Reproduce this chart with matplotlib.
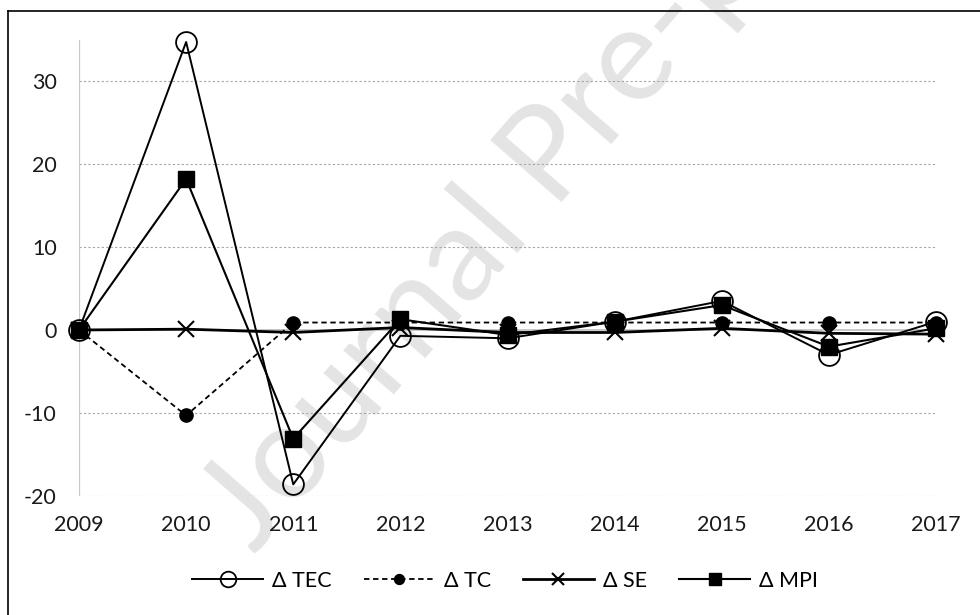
import matplotlib
matplotlib.use("Agg")
import matplotlib.pyplot as plt
from matplotlib.lines import Line2D

plt.rcParams['font.family'] = ['Lato', 'DejaVu Sans']
plt.rcParams['axes.unicode_minus'] = False

years = [2009, 2010, 2011, 2012, 2013, 2014, 2015, 2016, 2017]
tec = [0.0, 34.7, -18.6, -0.7, -1.0, 1.0, 3.5, -3.0, 1.0]
tc = [0.0, -10.3, 0.9, 0.9, 0.9, 0.9, 0.9, 0.9, 0.9]
se = [0.0, 0.1, -0.3, 0.3, -0.3, -0.3, 0.2, -0.4, -0.5]
mpi = [0.0, 18.2, -13.1, 1.3, -0.6, 1.0, 3.0, -2.0, 0.2]
y_ticks = [-20, -10, 0, 10, 20, 30]
labels = ["\u0394 TEC", "\u0394 TC", "\u0394 SE", "\u0394 MPI"]

W, H = 980, 615
fig = plt.figure(figsize=(W / 100, H / 100), dpi=100)

# outer chart frame (left and top edges)
fig.add_artist(Line2D([7.5 / W, 7.5 / W], [0, 1 - 11 / H], color="black", lw=1.2))
fig.add_artist(Line2D([7.5 / W, 1], [1 - 11 / H, 1 - 11 / H], color="black", lw=1.2))

left, right, top, bottom = 79, 936, 39.5, 496
ax = fig.add_axes([left / W, 1 - bottom / H, (right - left) / W, (bottom - top) / H])

ax.set_xlim(2009, 2017)
ax.set_ylim(-20, 35)
ax.set_xticks(years)
ax.set_yticks(y_ticks)
ax.tick_params(length=0, labelsize=15.5, colors="#1a1a1a")
ax.tick_params(axis="x", pad=14)
ax.tick_params(axis="y", pad=16)
for s in ax.spines.values():
    s.set_visible(False)

# gridlines and axis lines
for v in y_ticks:
    if v == 0:
        ax.axhline(0, color="#c8c8c8", lw=1.4, zorder=1)
    else:
        ax.axhline(v, color="#a6a6a6", lw=0.8, ls=(0, (2, 2)), zorder=1)
ax.axvline(2009, color="#c8c8c8", lw=1.6, zorder=1)

# watermark
ax.text(0.205, -0.13, "Journal Pre-proof", transform=ax.transAxes,
        rotation=49, fontsize=95, color="#e4e4e4", ha="left", va="baseline",
        rotation_mode="anchor", zorder=0.5, clip_on=False)

l1, = ax.plot(years, tec, color="black", lw=1.4, marker="o", ms=15,
              mfc="none", mec="black", mew=1.3, zorder=3, clip_on=False)
l2, = ax.plot(years, tc, color="black", lw=1.3, ls=(0, (3, 2)), marker="o", ms=9.5,
              mfc="black", mec="black", zorder=4, clip_on=False)
l3, = ax.plot(years, se, color="black", lw=2.0, marker="x", ms=11,
              mew=1.5, zorder=5, clip_on=False)
l4, = ax.plot(years, mpi, color="black", lw=1.5, marker="s", ms=11.5,
              mfc="black", mec="black", zorder=6, clip_on=False)

fig.legend([l1, l2, l3, l4], labels, loc="center", bbox_to_anchor=(505 / W, 1 - 581 / H),
           ncol=4, frameon=False, fontsize=15.5, handlelength=3.3, handletextpad=0.4,
           columnspacing=1.5, markerscale=0.75)

fig.savefig("out.png", dpi=100)
